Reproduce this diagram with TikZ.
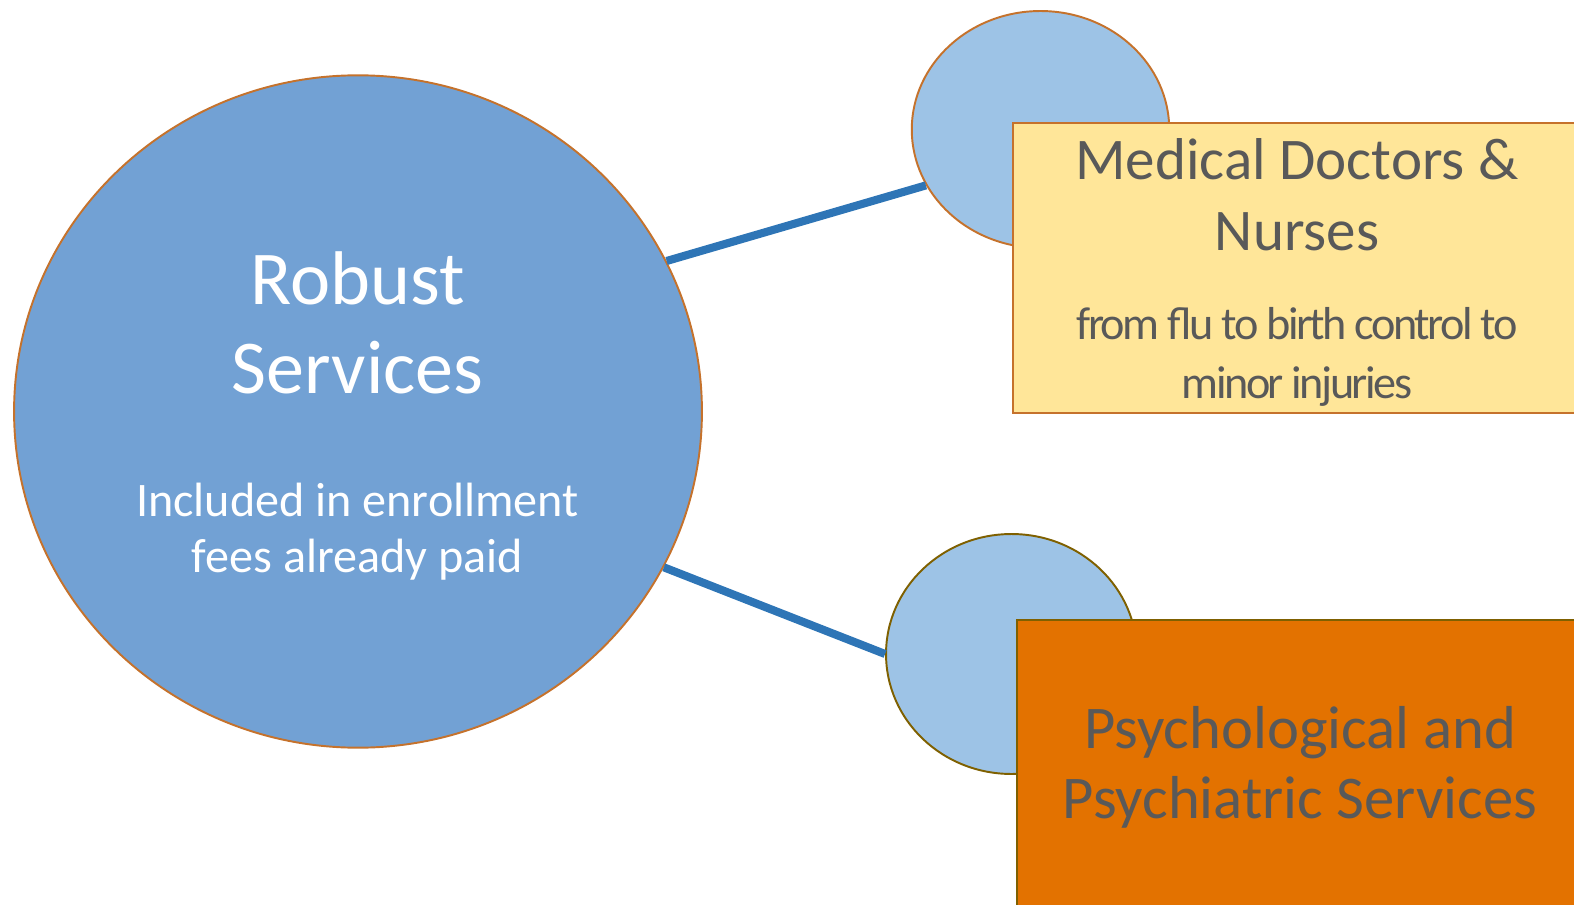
\documentclass[tikz,border=0pt]{standalone}
\usepackage{fontspec}
\setmainfont{Carlito}
\usetikzlibrary{shapes.geometric}

\definecolor{discblue}{HTML}{72A1D4}
\definecolor{softblue}{HTML}{9DC3E6}
\definecolor{linkblue}{HTML}{2E75B6}
\definecolor{rimorange}{HTML}{C5722C}
\definecolor{rimbrown}{HTML}{7F6000}
\definecolor{paleyellow}{HTML}{FFE699}
\definecolor{deeporange}{HTML}{E37200}
\definecolor{textgray}{HTML}{595959}

\begin{document}
\begin{tikzpicture}[x=0.02cm, y=-0.02cm,
		bigdisc/.style={draw=rimorange, fill=discblue, ellipse, line width=1.1pt, inner sep=0pt},
		smalldisc/.style={draw=#1, fill=softblue, ellipse, line width=1.1pt, inner sep=0pt},
		infobox/.style={draw=#1, rectangle, line width=1.1pt, inner sep=0pt},
		link/.style={draw=linkblue, line width=4.6pt},
		txt/.style={inner sep=0pt, anchor=base, text=textgray}]

	\useasboundingbox (0,0) rectangle (1574,905);
	\clip (0,0) rectangle (1574,905);

	% big circle
	\node (Robust) at (358,411.5) [bigdisc, minimum width=13.76cm, minimum height=13.45cm]{};

	% small circles
	\node (MedDisc) at (1040.5,129.5) [smalldisc=rimorange, minimum width=5.15cm, minimum height=4.74cm]{};
	\node (PsyDisc) at (1011.5,654) [smalldisc=rimbrown, minimum width=5.02cm, minimum height=4.8cm]{};

	% connectors
	\draw[link] (Robust.26.2) -- (MedDisc.206);
	\draw[link] (Robust.-27.7) -- (PsyDisc.180);

	% boxes
	\node (MedBox) at (1299,268) [infobox=rimorange, fill=paleyellow, minimum width=11.44cm, minimum height=5.8cm]{};
	\node (PsyBox) at (1302,772) [infobox=rimbrown, fill=deeporange, minimum width=11.4cm, minimum height=6.1cm]{};

	% texts
	\node (RobustA) at (357.5,304) [txt, text=white, font=\fontsize{43.3}{50}\selectfont]{Robust};
	\node (RobustB) at (357.5,393) [txt, text=white, font=\fontsize{43.3}{50}\selectfont]{Services};
	\node (FeesA) at (357.5,516) [txt, text=white, font=\fontsize{27.4}{32}\selectfont]{Included in enrollment};
	\node (FeesB) at (357.5,572) [txt, text=white, font=\fontsize{27.4}{32}\selectfont]{fees already paid};

	\node (MedA) at (1297,180) [txt, font=\fontsize{33.6}{40}\selectfont]{Medical Doctors \&};
	\node (MedB) at (1297,251) [txt, font=\fontsize{33.6}{40}\selectfont]{Nurses};
	\node (FluA) at (1297,339) [txt, font=\fontsize{26.3}{30}\selectfont\addfontfeature{LetterSpace=-5.5}]{from flu to birth control to};
	\node (FluB) at (1297,398) [txt, font=\fontsize{26.3}{30}\selectfont\addfontfeature{LetterSpace=-5.5}]{minor injuries};

	\node (PsyA) at (1300,748) [txt, font=\fontsize{34.5}{40}\selectfont]{Psychological and};
	\node (PsyB) at (1300,818) [txt, font=\fontsize{34.5}{40}\selectfont]{Psychiatric Services};

\end{tikzpicture}
\end{document}
